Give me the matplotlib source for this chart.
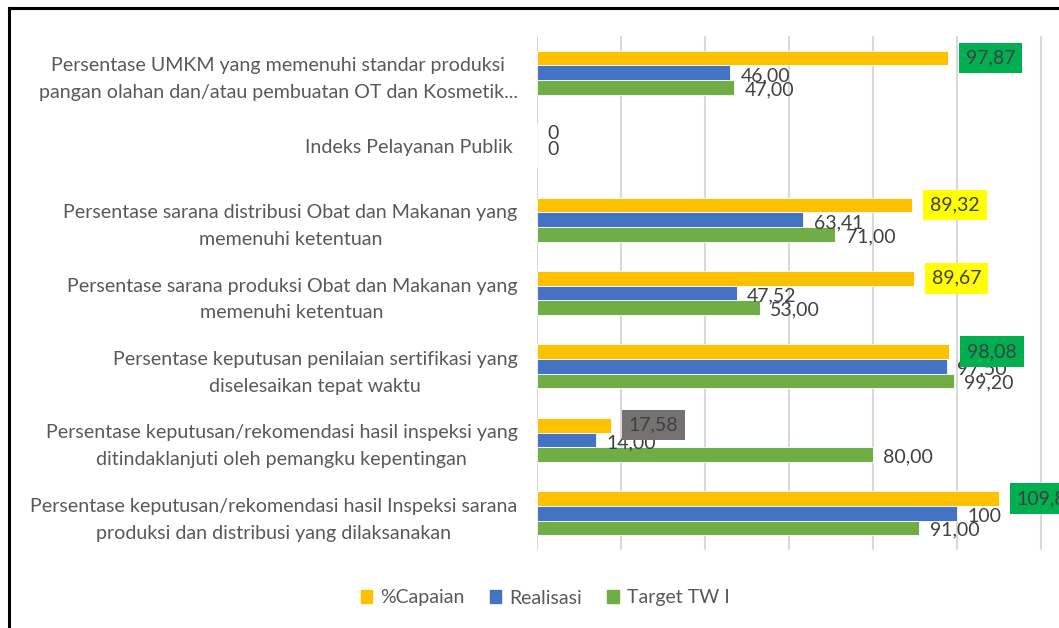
import matplotlib.pyplot as plt
from matplotlib.lines import Line2D
from matplotlib.patches import Patch
import numpy as np

# Data (top to bottom as shown in the chart)
categories = [
    "Persentase UMKM yang memenuhi standar produksi\npangan olahan dan/atau pembuatan OT dan Kosmetik...",
    "Indeks Pelayanan Publik ",
    "Persentase sarana distribusi Obat dan Makanan yang\nmemenuhi ketentuan",
    "Persentase sarana produksi Obat dan Makanan yang\nmemenuhi ketentuan",
    "Persentase keputusan penilaian sertifikasi yang\ndiselesaikan tepat waktu",
    "Persentase keputusan/rekomendasi hasil inspeksi yang\nditindaklanjuti oleh pemangku kepentingan",
    "Persentase keputusan/rekomendasi hasil Inspeksi sarana\nproduksi dan distribusi yang dilaksanakan",
]
capaian = [97.87, 0, 89.32, 89.67, 98.08, 17.58, 109.89]
realisasi = [46.00, 0, 63.41, 47.52, 97.50, 14.00, 100]
target = [47.00, 0, 71.00, 53.00, 99.20, 80.00, 91.00]

capaian_labels = ["97,87", "0", "89,32", "89,67", "98,08", "17,58", "109,89"]
realisasi_labels = ["46,00", "0", "63,41", "47,52", "97,50", "14,00", "100"]
target_labels = ["47,00", "", "71,00", "53,00", "99,20", "80,00", "91,00"]
capaian_box = ["#00B050", None, "#FFFF00", "#FFFF00", "#00B050", "#767171", "#00B050"]

plt.rcParams['font.family'] = ['Lato', 'DejaVu Sans']

fig = plt.figure(figsize=(10.59, 6.28), dpi=100)
ax = fig.add_axes([537 / 1059, 1 - 550 / 628, (1059 - 537) / 1059, (550 - 36) / 628])

n = len(categories)
y = np.arange(n)
h = 0.2
c_yellow, c_blue, c_green = "#FFC000", "#4472C4", "#70AD47"
txt = "#404040"

ax.barh(y - h, capaian, height=h, color=c_yellow, edgecolor="white", linewidth=0.6, zorder=2)
ax.barh(y, realisasi, height=h, color=c_blue, edgecolor="white", linewidth=0.6, zorder=2)
ax.barh(y + h, target, height=h, color=c_green, edgecolor="white", linewidth=0.6, zorder=2)

ax.set_ylim(n - 0.5, -0.5)
ax.set_xlim(0, (1059 - 537) / 4.2)
ax.set_xticks(np.arange(0, 121, 20))
ax.set_xticklabels([])
ax.tick_params(length=0)
ax.grid(axis="x", color="#D9D9D9", linewidth=1.5, zorder=0)
for s in ax.spines.values():
    s.set_visible(False)

ax.set_yticks(y)
ax.set_yticklabels(categories, fontsize=14.1, color="#595959", ha="right", multialignment="center",
                   linespacing=1.7)
ax.tick_params(axis="y", pad=14)

fs = 14
for i in range(n):
    # capaian labels
    if capaian_box[i]:
        ax.text(capaian[i] + 4.3, y[i] - h, capaian_labels[i], fontsize=fs, color=txt, va="center",
                ha="left", zorder=4,
                bbox=dict(boxstyle="square,pad=0.35", fc=capaian_box[i], ec="none"))
    else:
        ax.text(capaian[i] + 2.5, y[i] - h + 0.03, capaian_labels[i], fontsize=fs, color=txt, va="center", zorder=4)
    ax.text(realisasi[i] + 2.5, y[i] + 0.04, realisasi_labels[i], fontsize=fs, color=txt, va="center", zorder=3)
    if target_labels[i]:
        ax.text(target[i] + 2.5, y[i] + h + 0.03, target_labels[i], fontsize=fs, color=txt, va="center", zorder=3)

handles = [Patch(color=c_yellow), Patch(color=c_blue), Patch(color=c_green)]
fig.legend(handles, ["%Capaian", "Realisasi", "Target TW I"], loc="center", ncol=3,
           bbox_to_anchor=(545 / 1059, 1 - 598 / 628), frameon=False, fontsize=14,
           handlelength=0.6, handleheight=0.6, columnspacing=1.3, handletextpad=0.4,
           labelcolor="#595959")

# outer chart border (cropped on right and bottom)
fig.add_artist(Line2D([9 / 1059, 9 / 1059], [0, 1 - 8 / 628], color="black", linewidth=2.2))
fig.add_artist(Line2D([9 / 1059, 1], [1 - 8 / 628, 1 - 8 / 628], color="black", linewidth=2.2))

fig.savefig("out.png", dpi=100)
